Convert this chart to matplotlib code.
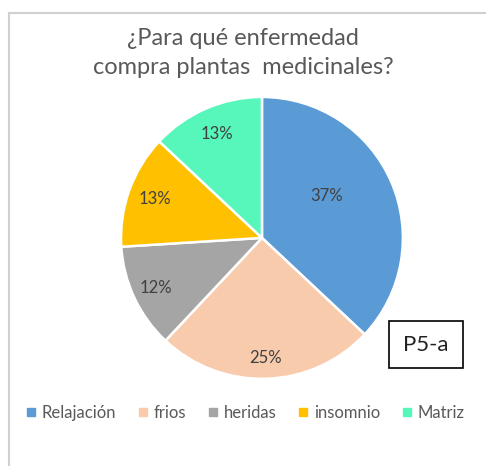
import matplotlib.pyplot as plt
import numpy as np
from matplotlib.lines import Line2D
from matplotlib.patches import Rectangle

# datos del gráfico
categorias = ['Relajación', 'frios', 'heridas', 'insomnio', 'Matriz']
porcentajes = [37, 25, 12, 13, 13]
colores = ['#5B9BD5', '#F8CBAD', '#A5A5A5', '#FFC000', '#57F6BB']
titulo = '¿Para qué enfermedad\ncompra plantas  medicinales?'
etiqueta_caja = 'P5-a'

plt.rcParams['font.family'] = ['Lato', 'DejaVu Sans']

fig = plt.figure(figsize=(4.86, 4.66), dpi=100)
fig.patch.set_facecolor('white')

ax = fig.add_axes([0.249, 0.187, 0.580, 0.605])
wedges, textos = ax.pie(porcentajes, colors=colores, startangle=90,
                        counterclock=False,
                        wedgeprops=dict(edgecolor='white', linewidth=1.8))
ax.set_xlim(-1, 1)
ax.set_ylim(-1, 1)
ax.set_aspect('equal')

# etiquetas de porcentaje (posición tipo "mejor ajuste" de Excel)
distancias = [0.55, 0.85, 0.83, 0.81, 0.80]
for w, p, d in zip(wedges, porcentajes, distancias):
    ang = np.deg2rad((w.theta1 + w.theta2) / 2)
    if p == 37:
        ang = np.deg2rad(33)
    ax.text(d * np.cos(ang), d * np.sin(ang), f'{p}%', ha='center', va='center',
            fontsize=12, color='#404040')

fig.text(0.50, 0.886, titulo, ha='center', va='center', fontsize=17,
         color='#595959', linespacing=1.5)

# leyenda
handles = [Line2D([], [], marker='s', linestyle='none', markersize=5.5,
                  markerfacecolor=c, markeredgecolor=c) for c in colores]
fig.legend(handles, categorias, loc='center', bbox_to_anchor=(0.505, 0.114),
           ncol=5, frameon=False, fontsize=12, handlelength=0.6,
           handletextpad=0.35, columnspacing=1.3, labelcolor='#595959')

# caja P5-a
fig.add_artist(Rectangle((0.800, 0.210), 0.152, 0.101, transform=fig.transFigure,
                         facecolor='white', edgecolor='black', linewidth=1.2))
fig.text(0.876, 0.260, etiqueta_caja, ha='center', va='center', fontsize=16,
         color='#222222')

# borde del área del gráfico
fig.add_artist(Line2D([0.0185, 1.0], [0.972, 0.972], transform=fig.transFigure,
                      color='#d0d0d0', linewidth=1.5))
fig.add_artist(Line2D([0.0185, 0.0185], [0.0, 0.972], transform=fig.transFigure,
                      color='#d0d0d0', linewidth=1.5))

fig.savefig('out.png', dpi=100, facecolor='white')
plt.close(fig)
